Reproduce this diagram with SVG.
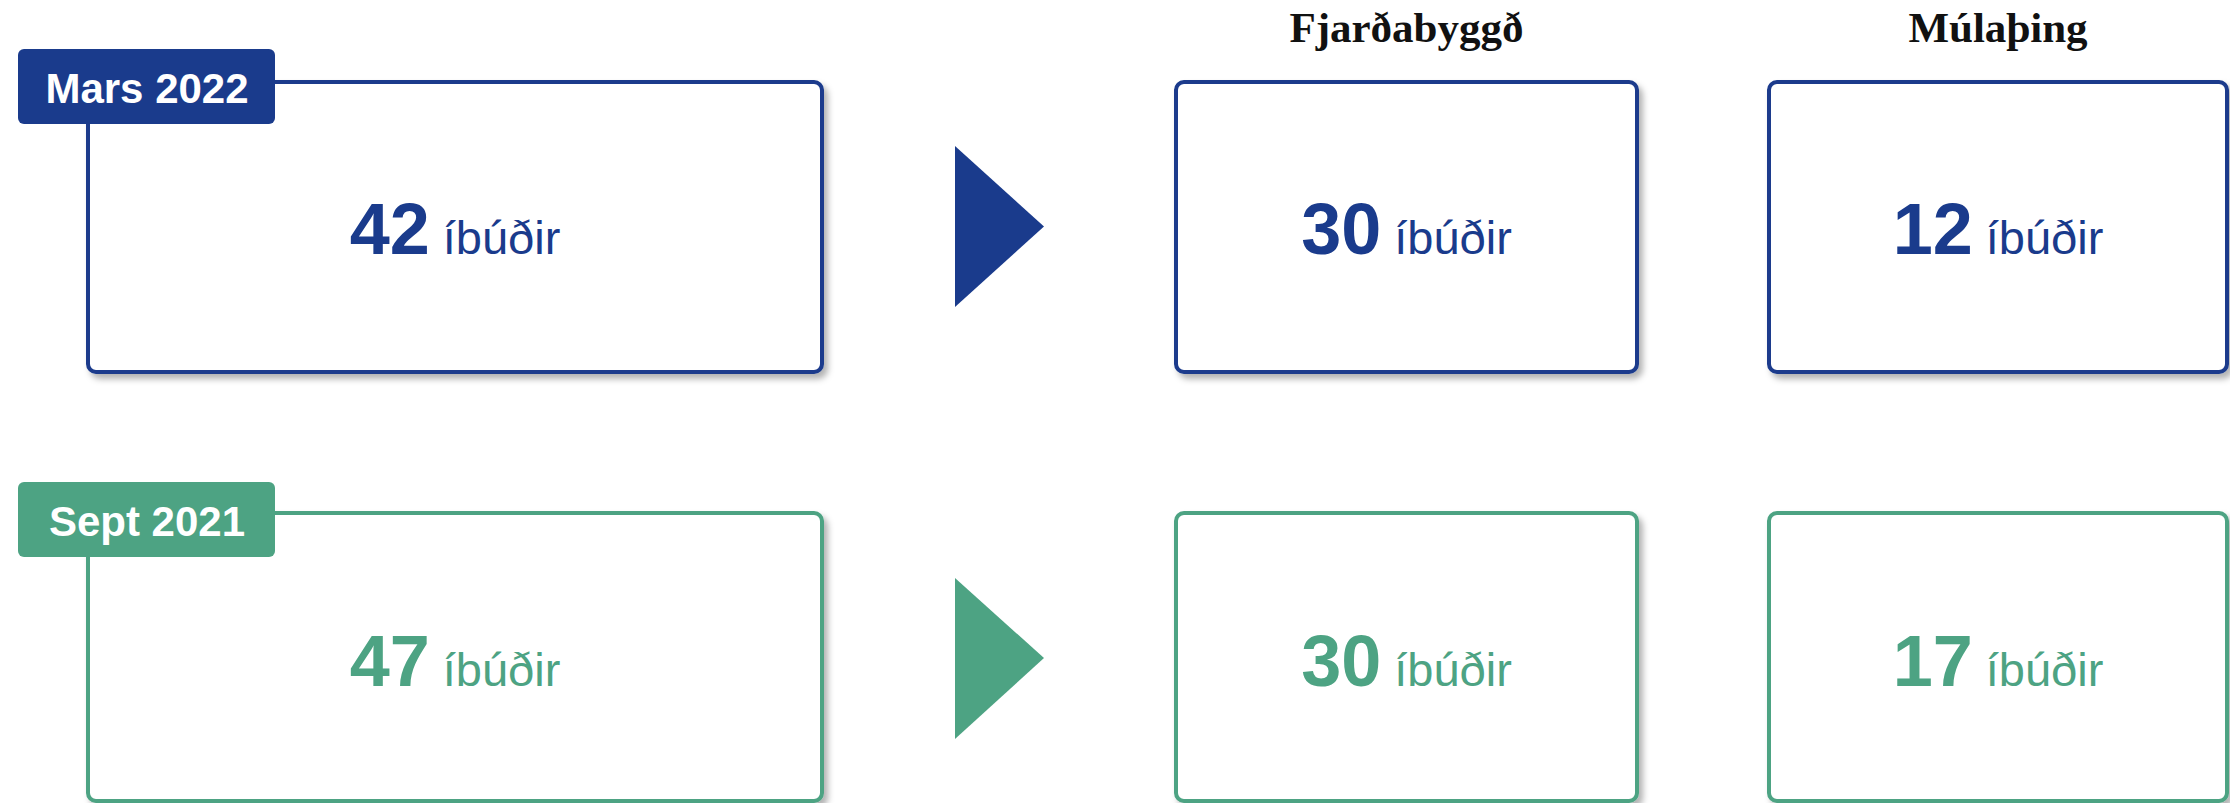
<svg xmlns="http://www.w3.org/2000/svg" width="2230" height="803" viewBox="0 0 2230 803">
  <defs>
    <filter id="sh" x="-5%" y="-5%" width="115%" height="115%">
      <feDropShadow dx="4" dy="5" stdDeviation="3" flood-color="#000" flood-opacity="0.3"/>
    </filter>
  </defs>
  <style>
    .box { fill: #fff; stroke-width: 4; filter: url(#sh); }
    .blue .box { stroke: #1A3B8C; }
    .green .box { stroke: #4DA383; }
    .blue .fill { fill: #1A3B8C; }
    .green .fill { fill: #4DA383; }
    .lbl { fill: #fff; font-family: "Liberation Sans", Arial, sans-serif; font-weight: bold; font-size: 42px; text-anchor: middle; }
    .val { font-family: "Liberation Sans", Arial, sans-serif; text-anchor: middle; font-size: 47px; }
    .num { font-weight: bold; font-size: 72px; }
    .unit { font-weight: normal; font-size: 47px; }
    .hdr { font-family: "Liberation Serif", "Times New Roman", serif; font-weight: bold; font-size: 43px; text-anchor: middle; fill: #111; }
  </style>

  <g id="headers">
    <text class="hdr" x="1406.5" y="42">Fjarðabyggð</text>
    <text class="hdr" x="1998" y="42">Múlaþing</text>
  </g>

  <g id="mars-2022" class="blue">
    <rect class="box" x="88" y="82" width="734" height="290" rx="8"/>
    <rect class="fill" x="18" y="49" width="257" height="75" rx="6"/>
    <text class="lbl" x="147" y="103">Mars 2022</text>
    <text class="val fill" x="455" y="254"><tspan class="num">42</tspan><tspan class="unit"> íbúðir</tspan></text>
  </g>
  <g id="fjardabyggd-2022" class="blue">
    <rect class="box" x="1176" y="82" width="461" height="290" rx="8"/>
    <text class="val fill" x="1406.5" y="254"><tspan class="num">30</tspan><tspan class="unit"> íbúðir</tspan></text>
  </g>
  <g id="mulathing-2022" class="blue">
    <rect class="box" x="1769" y="82" width="458" height="290" rx="8"/>
    <text class="val fill" x="1998" y="254"><tspan class="num">12</tspan><tspan class="unit"> íbúðir</tspan></text>
  </g>

  <g id="sept-2021" class="green">
    <rect class="box" x="88" y="513" width="734" height="288" rx="8"/>
    <rect class="fill" x="18" y="482" width="257" height="75" rx="6"/>
    <text class="lbl" x="147" y="536">Sept 2021</text>
    <text class="val fill" x="455" y="686"><tspan class="num">47</tspan><tspan class="unit"> íbúðir</tspan></text>
  </g>
  <g id="fjardabyggd-2021" class="green">
    <rect class="box" x="1176" y="513" width="461" height="288" rx="8"/>
    <text class="val fill" x="1406.5" y="686"><tspan class="num">30</tspan><tspan class="unit"> íbúðir</tspan></text>
  </g>
  <g id="mulathing-2021" class="green">
    <rect class="box" x="1769" y="513" width="458" height="288" rx="8"/>
    <text class="val fill" x="1998" y="686"><tspan class="num">17</tspan><tspan class="unit"> íbúðir</tspan></text>
  </g>

  <g id="connectors">
    <polygon points="955,146 1044,226.5 955,307" fill="#1A3B8C"/>
    <polygon points="955,578 1044,658 955,739" fill="#4DA383"/>
  </g>
</svg>
